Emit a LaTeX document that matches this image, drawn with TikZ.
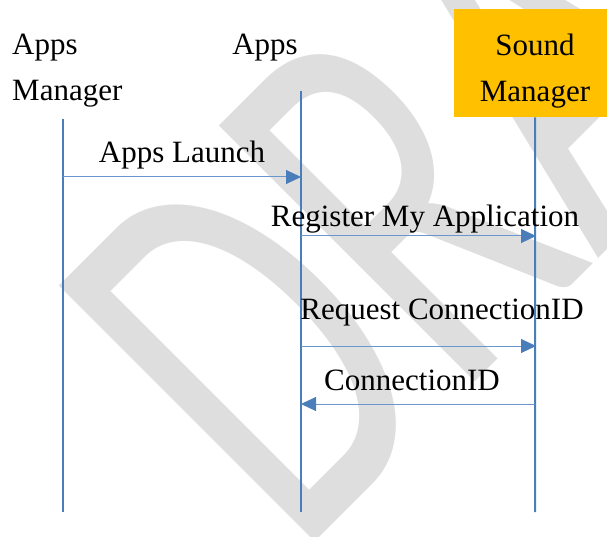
\documentclass[tikz,border=0pt]{standalone}
\usepackage{graphicx}
\usepackage{fontspec}
\setmainfont{Liberation Serif}
\newfontfamily\wmfont{Carlito}
\usetikzlibrary{arrows.meta, positioning, calc}
\definecolor{lineblue}{HTML}{4A7EBB}
\definecolor{msgblue}{HTML}{6A96CF}
\definecolor{boxorange}{HTML}{FFC000}
\definecolor{wmgray}{HTML}{DEDEDE}

\tikzset{
  lifeline/.style={draw=lineblue, line width=2pt},
  message/.style={draw=msgblue, line width=1pt, -{Triangle[length=15pt, width=14pt, color=lineblue]}},
  lbl/.style={inner sep=0pt, font=\fontsize{31}{46}\selectfont},
}

\begin{document}
\begin{tikzpicture}[x=1pt, y=-1pt]
\useasboundingbox (0,0) rectangle (607,537);

% watermark behind everything
\begin{scope}
  \clip (0,0) rectangle (607,537);
  \node[wmgray, inner sep=0pt, rotate=45, anchor=base west, font=\wmfont\fontsize{564}{600}\selectfont] (draft) at (297,560) {\scalebox{0.65}[1]{DRAFT}};
\end{scope}

% participants
\node[lbl, anchor=base west, align=left] (appsmgr) at (12,101) {Apps\\Manager};
\node[lbl, anchor=base] (apps) at (265,55) {Apps};
\node[fill=boxorange, inner sep=0pt, minimum width=162, minimum height=108, anchor=north west] (soundbox) at (454,9) {};
\node[lbl, anchor=base, align=center] (soundmgr) at (535,102) {Sound\\Manager};

% lifelines
\coordinate (amtop) at (63,119);
\coordinate (ambot) at (63,512);
\coordinate (aptop) at (301,91);
\coordinate (apbot) at (301,512);
\coordinate (smbot) at (535,512);
\draw[lifeline] (amtop) -- (ambot);
\draw[lifeline] (aptop) -- (apbot);
\draw[lifeline] (soundbox.south) -- (smbot);

% messages
\coordinate (launch) at (0,177);
\coordinate (register) at (0,236);
\coordinate (request) at (0,346);
\coordinate (reply) at (0,404);
\draw[message] (amtop |- launch) -- (aptop |- launch);
\draw[message] (aptop |- register) -- ([xshift=1pt]smbot |- register);
\draw[message] (aptop |- request) -- ([xshift=1pt]smbot |- request);
\draw[message] (smbot |- reply) -- (aptop |- reply);

\node[lbl, anchor=base] (launchlbl) at (182,163) {Apps Launch};
\node[lbl, anchor=base] (registerlbl) at (425,227) {Register My Application};
\node[lbl, anchor=base] (requestlbl) at (442,319) {Request ConnectionID};
\node[lbl, anchor=base] (replylbl) at (412,390) {ConnectionID};
\end{tikzpicture}
\end{document}
